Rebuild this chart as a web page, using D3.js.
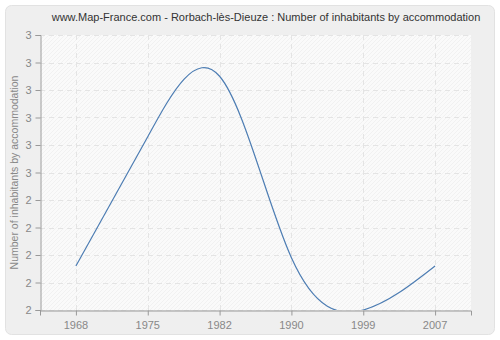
<!DOCTYPE html>
<html>
<head>
<meta charset="utf-8">
<script src="https://cdn.jsdelivr.net/npm/d3@7"></script>
<style>
  body { margin: 0; background: #fff; }
  text { font-family: "Liberation Sans", "DejaVu Sans", sans-serif; }
</style>
</head>
<body>
<div id="chart"></div>
<script>
// Values
const years = ["1968", "1975", "1982", "1990", "1999", "2007"];
const inhabitants = [2.16, 2.63, 2.85, 2.19, 2.0, 2.16];
const yTicks = [2, 2.1, 2.2, 2.3, 2.4, 2.5, 2.6, 2.7, 2.8, 2.9, 3];

const W = 500, H = 340;
const margin = { top: 35, right: 29, bottom: 30, left: 40 };

const svg = d3.select("#chart").append("svg")
  .attr("width", W)
  .attr("height", H);

// Panel background
svg.append("rect")
  .attr("x", 5.5).attr("y", 5.5)
  .attr("width", W - 11).attr("height", H - 11)
  .attr("rx", 6)
  .attr("fill", "#efefef")
  .attr("stroke", "#e2e2e2");

// Hatch pattern for the plot area
const defs = svg.append("defs");
const pat = defs.append("pattern")
  .attr("id", "hatch")
  .attr("patternUnits", "userSpaceOnUse")
  .attr("width", 4).attr("height", 4);
pat.append("rect").attr("width", 4).attr("height", 4).attr("fill", "#fafafa");
pat.append("path").attr("d", "M-1,1 l2,-2 M0,4 l4,-4 M3,5 l2,-2")
  .attr("stroke", "#f1f1f1").attr("stroke-width", 1);

defs.append("clipPath").attr("id", "plotclip")
  .append("rect")
  .attr("x", margin.left).attr("y", margin.top)
  .attr("width", W - margin.left - margin.right)
  .attr("height", H - margin.top - margin.bottom);

const x = d3.scaleBand()
  .domain(years)
  .range([margin.left, W - margin.right]);

const y = d3.scaleLinear()
  .domain([2, 3])
  .range([H - margin.bottom, margin.top]);

const cx = d => x(d) + x.bandwidth() / 2;

// Plot area
svg.append("rect")
  .attr("x", margin.left).attr("y", margin.top)
  .attr("width", W - margin.left - margin.right)
  .attr("height", H - margin.top - margin.bottom)
  .attr("fill", "url(#hatch)");

// Grid lines
svg.append("g")
  .selectAll("line")
  .data(yTicks)
  .join("line")
  .attr("x1", margin.left).attr("x2", W - margin.right)
  .attr("y1", d => Math.round(y(d)) + 0.5).attr("y2", d => Math.round(y(d)) + 0.5)
  .attr("stroke", "#e4e4e4")
  .attr("stroke-dasharray", "5,4");

svg.append("g")
  .selectAll("line")
  .data(years)
  .join("line")
  .attr("x1", d => Math.round(cx(d)) + 0.5).attr("x2", d => Math.round(cx(d)) + 0.5)
  .attr("y1", margin.top).attr("y2", H - margin.bottom)
  .attr("stroke", "#e4e4e4")
  .attr("stroke-dasharray", "5,4");

// Line
const line = d3.line()
  .x((d, i) => cx(years[i]))
  .y(d => y(d))
  .curve(d3.curveNatural);

svg.append("path")
  .datum(inhabitants)
  .attr("clip-path", "url(#plotclip)")
  .attr("fill", "none")
  .attr("stroke", "#4d7db3")
  .attr("stroke-width", 1.2)
  .attr("d", line);

// Axes
const xAxis = svg.append("g")
  .attr("transform", `translate(0,${H - margin.bottom + 0.5})`)
  .call(d3.axisBottom(x).tickSizeOuter(0).tickSize(5).tickPadding(6));

const yAxis = svg.append("g")
  .attr("transform", `translate(${margin.left + 0.5},0)`)
  .call(d3.axisLeft(y).tickValues(yTicks).tickFormat(d3.format(".0f")).tickSizeOuter(0).tickSize(5).tickPadding(4));

[xAxis, yAxis].forEach(g => {
  g.select(".domain").attr("stroke", "#999");
  g.selectAll(".tick line").attr("stroke", "#999");
  g.selectAll(".tick text").attr("fill", "#888")
    .style("font-family", "'Liberation Sans', sans-serif")
    .style("font-size", "11px");
});
xAxis.selectAll(".tick line").attr("transform", "translate(0.5,0)");

// Title
svg.append("text")
  .attr("x", 266).attr("y", 21)
  .attr("text-anchor", "middle")
  .attr("fill", "#333")
  .style("font-size", "11px")
  .text("www.Map-France.com - Rorbach-lès-Dieuze : Number of inhabitants by accommodation");

// Y axis label
svg.append("text")
  .attr("transform", `translate(18,${(margin.top + H - margin.bottom) / 2}) rotate(-90)`)
  .attr("text-anchor", "middle")
  .attr("fill", "#888")
  .style("font-size", "10.5px")
  .text("Number of inhabitants by accommodation");
</script>
</body>
</html>
